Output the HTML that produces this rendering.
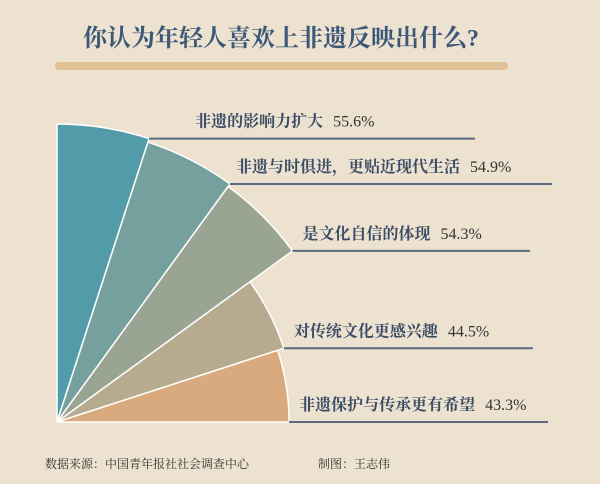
<!DOCTYPE html>
<html><head><meta charset="utf-8"><style>
body{margin:0;background:#ede1cf;}
svg{display:block;}
.t{font-family:"Liberation Serif","Noto Serif CJK SC",serif;}
</style></head><body>
<svg width="600" height="484" viewBox="0 0 600 484">
<rect width="600" height="484" fill="#ede1cf"/>
<text class="t" x="83" y="46" font-size="24" font-weight="bold" fill="#3b5878">你认为年轻人喜欢上非遗反映出什么?</text>
<rect x="55" y="62" width="453" height="8" rx="4" fill="#e2c096"/>
<g id="slices"></g>
<g id="labels"></g>
<text class="t" x="45" y="468" font-size="12" fill="#333">数据来源：中国青年报社社会调查中心</text>
<text class="t" x="318" y="468" font-size="12" fill="#333">制图：王志伟</text>
</svg>
<script>
const categories=["非遗的影响力扩大","非遗与时俱进，更贴近现代生活","是文化自信的体现","对传统文化更感兴趣","非遗保护与传承更有希望"];
const values=[55.6,54.9,54.3,44.5,43.3];
const colors=["#529ba8","#75a09e","#99a592","#b6ab8f","#d9aa7e"];
const lineEnds=[475,552,530,533,548];
const NS="http://www.w3.org/2000/svg";
const cx=57,cy=422,k=298/55.6;
const rScale=v=>v*k;
const step=90/values.length;
const gS=document.getElementById('slices'),gL=document.getElementById('labels');
values.forEach((v,i)=>{
  const r=rScale(v);
  const a0=(90-i*step)*Math.PI/180,a1=(90-(i+1)*step)*Math.PI/180;
  const x0=cx+r*Math.cos(a0),y0=cy-r*Math.sin(a0),x1=cx+r*Math.cos(a1),y1=cy-r*Math.sin(a1);
  const p=document.createElementNS(NS,'path');
  p.setAttribute('d',`M${cx},${cy}L${x0},${y0}A${r},${r} 0 0 1 ${x1},${y1}Z`);
  p.setAttribute('fill',colors[i]);p.setAttribute('stroke','#fff');p.setAttribute('stroke-width','1.5');
  
  
  gS.appendChild(p);
  const l=document.createElementNS(NS,'line');
  l.setAttribute('x1',x1);l.setAttribute('y1',y1);l.setAttribute('x2',lineEnds[i]);l.setAttribute('y2',y1);
  l.setAttribute('stroke','#5a6a80');l.setAttribute('stroke-width','2');
  
  
  gL.appendChild(l);
  const t=document.createElementNS(NS,'text');
  t.setAttribute('class','t');t.setAttribute('x',x1+(i==0?46:i==1?6:10));t.setAttribute('y',y1-12);
  t.setAttribute('font-size','16');
  
  
  const s1=document.createElementNS(NS,'tspan');s1.setAttribute('font-weight','bold');s1.setAttribute('fill','#3a4d66');s1.textContent=categories[i];
  const s2=document.createElementNS(NS,'tspan');s2.setAttribute('fill','#333');s2.setAttribute('dx','10');s2.textContent=v.toFixed(1)+'%';
  t.appendChild(s1);t.appendChild(s2);gL.appendChild(t);
});
</script>
</body></html>
